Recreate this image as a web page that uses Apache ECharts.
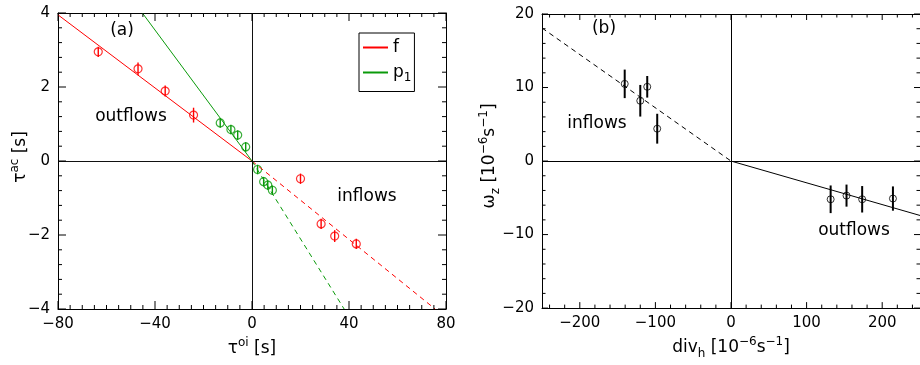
<!DOCTYPE html>
<html><head><meta charset="utf-8">
<script src="https://cdn.jsdelivr.net/npm/echarts@6/dist/echarts.min.js"></script>
<style>html,body{margin:0;padding:0;background:#fff}#c{width:920px;height:365px}</style>
</head><body><div id="c"></div>
<script>
// ---------- data (panel a) ----------
const fX   = [-63.4, -47.0, -35.8, -24.1, 20.0, 28.5, 34.1, 43.0];
const fY   = [2.95, 2.49, 1.89, 1.24, -0.48, -1.70, -2.03, -2.24];
const fErr = [0.14, 0.17, 0.15, 0.20, 0.14, 0.14, 0.16, 0.14];
const p1X   = [-13.1, -8.7, -5.9, -2.6, 2.3, 4.8, 6.5, 8.4];
const p1Y   = [1.03, 0.85, 0.70, 0.38, -0.23, -0.56, -0.65, -0.79];
const p1Err = [0.13, 0.13, 0.13, 0.13, 0.13, 0.13, 0.13, 0.13];
// fit lines (solid part = outflows, dashed part = inflows)
const fFitSolidX = [-80, 0],  fFitSolidY = [3.95, 0];
const fFitDashX  = [0, 75.5], fFitDashY  = [0, -4.0];
const p1FitSolidX = [-45.2, 0], p1FitSolidY = [4.0, 0];
const p1FitDashX  = [0, 38.0],  p1FitDashY  = [0, -4.0];
// ---------- data (panel b) ----------
const divX     = [-140.6, -120.0, -110.8, -97.6, 131.8, 152.8, 173.5, 214.2];
const omegaY   = [10.5, 8.2, 10.1, 4.4, -5.2, -4.7, -5.2, -5.1];
const omegaErr = [1.94, 2.15, 1.47, 2.03, 1.88, 1.50, 1.80, 1.65];
const omFitDashX  = [-250, 0], omFitDashY  = [18.1, 0];
const omFitSolidX = [0, 250],  omFitSolidY = [0, -7.4];
// ---------- axis ranges / ticks ----------
const aXRange = [-80, 80], aXInterval = 40;
const aYRange = [-4, 4],   aYInterval = 2;
const bXRange = [-250, 250];
const bYRange = [-20, 20], bYInterval = 10;
const aXMajor = [-80, -40, 0, 40, 80],        aXMinorStep = 5;
const aYMajor = [-4, -2, 0, 2, 4],            aYMinorStep = 0.4;
const bXMajor = [-200, -100, 0, 100, 200],    bXMinorStep = 20;
const bYMajor = [-20, -10, 0, 10, 20],        bYMinorStep = 2;

const FONT = 'DejaVu Sans';
const RED = '#ff0000', GREEN = '#0a9a0a', BLACK = '#000';
const minus = v => (v < 0 ? '\u2212' + Math.abs(v) : String(v));
const zip = (xs, ys) => xs.map((x, i) => [x, ys[i]]);
const zip3 = (xs, ys, es) => xs.map((x, i) => [x, ys[i], es[i]]);

const richName = {
  m:   {fontFamily: FONT, fontSize: 17, color: BLACK, fill: BLACK, lineHeight: 24},
  sup: {fontFamily: FONT, fontSize: 12, color: BLACK, fill: BLACK, lineHeight: 12, verticalAlign: 'top'},
  sub: {fontFamily: FONT, fontSize: 12, color: BLACK, fill: BLACK, lineHeight: 12, verticalAlign: 'bottom'}
};

function axis(o) {
  const base = {
    type: 'value',
    axisLine: {show: true, onZero: false, lineStyle: {color: BLACK, width: 1}},
    axisTick: {show: false},
    minorTick: {show: false},
    splitLine: {show: false},
    axisLabel: {show: o.labeled, color: BLACK, fontFamily: FONT, fontSize: 15, margin: 8, formatter: minus}
  };
  if (o.hideEnds) { base.axisLabel.showMinLabel = false; base.axisLabel.showMaxLabel = false; }
  if (o.name) { base.name = o.name; base.nameLocation = 'middle'; base.nameGap = o.nameGap;
                base.nameTextStyle = {rich: richName}; }
  return Object.assign(base, o.extra);
}

// tick marks (inside, on all four sides) drawn through the axes' own scale
function tickData(xMajor, xStep, yMajor, yStep, xr, yr, majLen, minLen) {
  const out = [];
  const isMajor = (v, majors) => majors.some(m => Math.abs(m - v) < 1e-6);
  for (let k = Math.ceil(xr[0] / xStep); k * xStep <= xr[1] + 1e-9; k++) {
    const v = Math.round(k * xStep * 1000) / 1000;
    out.push([v, yr[0], isMajor(v, xMajor) ? majLen : minLen, 0]);
  }
  for (let k = Math.ceil(yr[0] / yStep - 1e-9); k * yStep <= yr[1] + 1e-9; k++) {
    const v = Math.round(k * yStep * 1000) / 1000;
    out.push([xr[0], v, isMajor(v, yMajor) ? majLen : minLen, 1]);
  }
  return out;
}
function tickSeries(xi, yi, xr, yr, data) {
  return {
    type: 'custom', xAxisIndex: xi, yAxisIndex: yi, data, silent: true, clip: false, z: 5,
    encode: {x: 0, y: 1},
    renderItem: (params, api) => {
      const len = api.value(2), kind = api.value(3);
      let a, b, lines;
      if (kind === 0) {
        const v = api.value(0);
        a = api.coord([v, yr[0]]); b = api.coord([v, yr[1]]);
        lines = [[a[0], a[1], a[0], a[1] - len], [b[0], b[1], b[0], b[1] + len]];
      } else {
        const v = api.value(1);
        a = api.coord([xr[0], v]); b = api.coord([xr[1], v]);
        lines = [[a[0], a[1], a[0] + len, a[1]], [b[0], b[1], b[0] - len, b[1]]];
      }
      return {type: 'group', children: lines.map(l => ({
        type: 'line', shape: {x1: l[0], y1: l[1], x2: l[2], y2: l[3]},
        style: {stroke: BLACK, lineWidth: 1}}))};
    }
  };
}

function errBars(name, xAxisIndex, yAxisIndex, data, color, width) {
  return {
    name, type: 'custom', xAxisIndex, yAxisIndex, data, silent: true,
    encode: {x: 0, y: 1},
    renderItem: (params, api) => {
      const x = api.value(0), y = api.value(1), e = api.value(2);
      const a = api.coord([x, y - e]), b = api.coord([x, y + e]);
      return {type: 'line', shape: {x1: a[0], y1: a[1], x2: b[0], y2: b[1]},
              style: {stroke: color, lineWidth: width}};
    }
  };
}
function fitLine(name, xi, yi, data, color, dashed) {
  return {name, type: 'line', xAxisIndex: xi, yAxisIndex: yi, data, color,
          showSymbol: false, symbol: 'none', silent: true, clip: true,
          lineStyle: {color, width: 1, type: dashed ? [5, 4] : 'solid'}};
}
function dots(name, xi, yi, data, color, size, bw) {
  return {name, type: 'scatter', xAxisIndex: xi, yAxisIndex: yi, data, color,
          symbol: 'circle', symbolSize: size, silent: true,
          itemStyle: {color: 'rgba(0,0,0,0)', borderColor: color, borderWidth: bw}};
}
function label(x, y, text) {
  return {type: 'text', x, y, silent: true, style: {text, font: '17px "DejaVu Sans"', fill: BLACK,
          textAlign: 'center', textVerticalAlign: 'middle', align: 'center', verticalAlign: 'middle'}};
}
function yName(x, y, text) {
  return {type: 'text', x, y, rotation: Math.PI / 2, silent: true,
          style: {text, rich: richName, fill: BLACK, font: '17px "DejaVu Sans"',
                  textAlign: 'center', textVerticalAlign: 'middle', align: 'center', verticalAlign: 'middle'}};
}

const chart = echarts.init(document.getElementById('c'), null, {renderer: 'canvas'});
chart.setOption({
  animation: false,
  backgroundColor: '#fff',
  grid: [
    {left: 58, right: 474, top: 13, bottom: 56},
    {left: 542, right: -2, top: 14, bottom: 56}
  ],
  xAxis: [
    axis({labeled: true, name: '{m|τ}{sup|oi}{m| [s]}', nameGap: 23,
          extra: {gridIndex: 0, position: 'bottom', min: aXRange[0], max: aXRange[1], interval: aXInterval}}),
    axis({labeled: false, extra: {gridIndex: 0, position: 'top', min: aXRange[0], max: aXRange[1], interval: aXInterval}}),
    axis({labeled: true, hideEnds: true, name: '{m|div}{sub|h}{m| [10}{sup|−6}{m|s}{sup|−1}{m|]}', nameGap: 22,
          extra: {gridIndex: 1, position: 'bottom', min: bXRange[0], max: bXRange[1]}}),
    axis({labeled: false, extra: {gridIndex: 1, position: 'top', min: bXRange[0], max: bXRange[1]}})
  ],
  yAxis: [
    axis({labeled: true, extra: {gridIndex: 0, position: 'left', min: aYRange[0], max: aYRange[1], interval: aYInterval}}),
    axis({labeled: false, extra: {gridIndex: 0, position: 'right', min: aYRange[0], max: aYRange[1], interval: aYInterval}}),
    axis({labeled: true, extra: {gridIndex: 1, position: 'left', min: bYRange[0], max: bYRange[1], interval: bYInterval}}),
    axis({labeled: false, extra: {gridIndex: 1, position: 'right', min: bYRange[0], max: bYRange[1], interval: bYInterval}})
  ],
  legend: {
    data: [{name: 'f', icon: 'rect'}, {name: 'p1', icon: 'rect'}],
    orient: 'vertical', left: 359, top: 33, selectedMode: false,
    itemWidth: 25, itemHeight: 2, itemGap: 8,
    padding: [6, 3, 8, 4],
    borderColor: BLACK, borderWidth: 1, backgroundColor: '#fff',
    formatter: n => n === 'p1' ? '{m|p}{sub|1}' : '{m|f}',
    textStyle: {rich: {
      m: {fontFamily: FONT, fontSize: 17, color: BLACK, lineHeight: 22},
      sub: {fontFamily: FONT, fontSize: 12, color: BLACK, lineHeight: 12, verticalAlign: 'bottom'}
    }}
  },
  series: [
    tickSeries(0, 0, aXRange, aYRange, tickData(aXMajor, aXMinorStep, aYMajor, aYMinorStep, aXRange, aYRange, 8, 4)),
    tickSeries(2, 2, bXRange, bYRange, tickData(bXMajor, bXMinorStep, bYMajor, bYMinorStep, bXRange, bYRange, 6, 3.5)),

    fitLine('f', 0, 0, zip(fFitSolidX, fFitSolidY), RED, false),
    fitLine('f', 0, 0, zip(fFitDashX, fFitDashY), RED, true),
    fitLine('p1', 0, 0, zip(p1FitSolidX, p1FitSolidY), GREEN, false),
    fitLine('p1', 0, 0, zip(p1FitDashX, p1FitDashY), GREEN, true),
    {type: 'line', xAxisIndex: 0, yAxisIndex: 0, data: [], silent: true,
     markLine: {silent: true, symbol: ['none', 'none'], label: {show: false}, animation: false,
                lineStyle: {color: '#111', width: 1, type: 'solid'},
                data: [{xAxis: 0}, {yAxis: 0}]}},
    errBars('f', 0, 0, zip3(fX, fY, fErr), RED, 1.4),
    dots('f', 0, 0, zip(fX, fY), RED, 8, 1.2),
    errBars('p1', 0, 0, zip3(p1X, p1Y, p1Err), GREEN, 1.4),
    dots('p1', 0, 0, zip(p1X, p1Y), GREEN, 8, 1.2),

    fitLine('bfit', 2, 2, zip(omFitDashX, omFitDashY), BLACK, true),
    fitLine('bfit', 2, 2, zip(omFitSolidX, omFitSolidY), BLACK, false),
    {type: 'line', xAxisIndex: 2, yAxisIndex: 2, data: [], silent: true,
     markLine: {silent: true, symbol: ['none', 'none'], label: {show: false}, animation: false,
                lineStyle: {color: '#000', width: 1, type: 'solid'},
                data: [{xAxis: 0}, {yAxis: 0}]}},
    errBars('bobs', 2, 2, zip3(divX, omegaY, omegaErr), BLACK, 2),
    dots('bobs', 2, 2, zip(divX, omegaY), BLACK, 7, 1)
  ],
  graphic: [
    label(122, 31, '(a)'),
    label(131, 117, 'outflows'),
    label(367, 197, 'inflows'),
    label(604, 29, '(b)'),
    label(597, 124, 'inflows'),
    label(854, 231, 'outflows'),
    yName(21, 157, '{m|τ}{sup|ac}{m| [s]}'),
    yName(490, 156, '{m|ω}{sub|z}{m| [10}{sup|−6}{m|s}{sup|−1}{m|]}')
  ]
});
</script></body></html>
